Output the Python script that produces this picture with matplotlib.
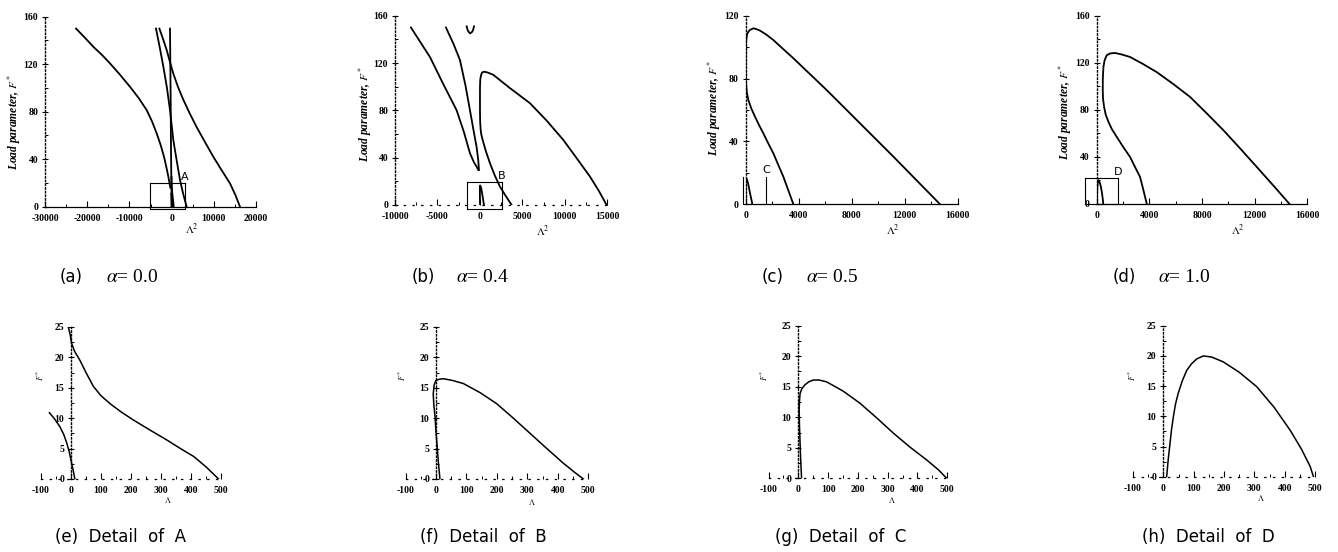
import matplotlib
matplotlib.use("Agg")
import matplotlib.pyplot as plt
from matplotlib.ticker import MultipleLocator

plt.rcParams['axes.unicode_minus'] = False
plt.rcParams['mathtext.fontset'] = 'stix'

W, H = 1338, 552

# ---- data: top panels, load parameter F* against Lambda^2 ----
# (a) alpha = 0.0
a_left_x = [-22650, -20600, -18550, -16500, -14600, -12200, -9860, -7800, -5910, -4600,
            -3540, -2600, -1800, -1250, -770, -300]
a_left_y = [150, 142.5, 134.7, 127.8, 120.7, 111, 101, 91.5, 81.4, 71.5,
            61.8, 52, 42.1, 33.5, 25.3, 16]
a_steep_x = [-3700, -2800, -1960, -1100, -380, 410, 1200, 1990, 2800, 3570]
a_steep_y = [150, 134, 118, 100, 81.4, 56, 39, 22.5, 10, 0]
a_right_x = [-2900, -2000, -1170, -400, 410, 1500, 2780, 4300, 5940, 7900, 9890,
             11900, 13840, 15100, 16200]
a_right_y = [150, 141, 132, 122, 112, 101, 90, 78.5, 67, 54.5, 42, 30.5, 19.6, 10, 0]
a_vert_x = [-380, -300, -220, -140, -60, 20]
a_vert_y = [150, 120, 89.8, 47.7, 22, 0]

# (b) alpha = 0.4
b_left_x = [-8120, -7000, -5880, -4300, -2740, -1900, -1170, -700, -390, -190]
b_left_y = [150, 137.5, 125, 102, 80, 62, 43.7, 36, 32.4, 29.6]
b_mid_x = [-4000, -3100, -2350, -1700, -1170, -750, -390, -200, -110]
b_mid_y = [150, 136, 122.5, 101, 80, 63, 49, 38, 29.6]
b_hump_x = [3740, 3050, 2360, 1750, 1190, 700, 320, 150, 90, 30, 10, 5, 10, 40, 125, 250,
            480, 900, 1580, 3500, 5900, 7900, 9820, 11400, 12960, 14000, 14920]
b_hump_y = [0, 7.5, 15.5, 25, 35.2, 45.5, 55, 60, 63.4, 70, 77.5, 90, 100, 106, 109.5, 112,
            112.7, 112, 110, 99, 86, 71, 55, 39.5, 24, 12, 0]
b_cup_x = [-1560, -1450, -1350, -1150, -900, -780, -700]
b_cup_y = [151, 148, 146.5, 145, 146.5, 148.5, 151]

# (c) alpha = 0.5
c_hump_x = [3600, 3220, 2840, 2460, 2090, 1700, 1330, 1000, 700, 420, 200, 80, 25, 5, 0, 5,
            25, 60, 126, 300, 580, 800, 1080, 1550, 2090, 2800, 3600, 6110, 8630, 11150, 14670]
c_hump_y = [0, 8.8, 17.6, 25, 32.4, 38.8, 45.2, 50.5, 55.8, 61, 66.4, 71.5, 77, 82, 87.6, 95,
            102.4, 106, 108.8, 110.8, 112, 111.5, 110.5, 108, 104.5, 99, 92.9, 72.7, 51.5, 30.3, 0]

# (d) alpha = 1.0
d_hump_x = [3800, 3550, 3290, 2900, 2530, 2000, 1520, 1150, 890, 680, 560, 480, 460, 465, 510,
            600, 760, 1000, 1390, 1900, 2530, 3500, 4560, 5800, 7090, 8350, 9620, 10900,
            12150, 13400, 14630]
d_hump_y = [0, 11.5, 22.9, 31.5, 39.9, 48.5, 56.9, 63.5, 69.7, 76, 82.4, 89.5, 96.6, 106, 116.4,
            122, 126.3, 127.8, 128.3, 127, 124.9, 119, 112, 102, 90.9, 77, 62.6, 47,
            31.4, 15.7, 0]

# detail boxes (x0, x1, y0, y1)
box_a = [-5100, 3200, -2.2, 19.6]
box_b = [-1500, 2600, -3, 19.5]
box_c = [-230, 1530, 0, 17.6]
box_d = [-890, 1650, 0, 22.1]

# ---- data: bottom panels, F* against Lambda ----
e_main_x = [-9, -3, 2, 12, 30, 50, 75, 100, 130, 168, 208, 265, 320, 365, 409, 450, 492]
e_main_y = [25, 23.8, 22.3, 21, 19.5, 17.5, 15.2, 13.7, 12.4, 11, 9.7, 8, 6.4, 5, 3.7, 2, 0]
e_side_x = [-72, -55, -37, -24, -14, -6, 0, 7, 13]
e_side_y = [10.9, 9.9, 8.6, 7.3, 5.9, 4.5, 3.1, 1.5, 0]
f_x = [13, 8, 4, 0, -3, -7, -9, -6, 0, 10, 24, 55, 90, 145, 199, 254, 309, 364, 418, 455, 484]
f_y = [0, 2.7, 5.3, 7.8, 10.2, 12.2, 14, 15.5, 16.2, 16.4, 16.5, 16.2, 15.7, 14.2, 12.4, 10,
       7.5, 5, 2.6, 1.1, 0]
g_x = [11, 8, 6, 4, 3, 4, 6, 12, 22, 35, 50, 70, 95, 150, 207, 263, 319, 375, 431, 470, 498]
g_y = [0, 3, 5.7, 8.5, 11.2, 12.7, 13.9, 14.7, 15.3, 15.8, 16.1, 16.1, 15.8, 14.3, 12.3, 9.9,
       7.4, 5.1, 3.0, 1.4, 0]
h_x = [11, 16, 22, 27, 33, 40, 49, 62, 77, 93, 110, 132, 160, 198, 250, 308, 365, 418, 455,
       484, 495]
h_y = [0, 2.8, 5.5, 7.8, 9.9, 12, 13.8, 15.8, 17.6, 18.7, 19.5, 20, 19.8, 19, 17.3, 14.9,
       11.5, 7.7, 4.6, 1.7, 0]

captions_top = [("(a)", "0.0"), ("(b)", "0.4"), ("(c)", "0.5"), ("(d)", "1.0")]
captions_bot = ["(e)  Detail  of  A", "(f)  Detail  of  B", "(g)  Detail  of  C", "(h)  Detail  of  D"]

SERIF = 'Liberation Serif'
LW = 1.3

fig = plt.figure(figsize=(W / 100, H / 100), dpi=100)


def px_axes(l, r, t, b):
    return fig.add_axes([l / W, (H - b) / H, (r - l) / W, (b - t) / H])


def ftext(x, y, s, **kw):
    fig.text(x / W, 1 - y / H, s, **kw)


def style(ax, xmaj, xmin, ymaj, ymin, bottom_ls='-', fs=7):
    for s in ['top', 'right']:
        ax.spines[s].set_visible(False)
    ax.spines['left'].set_linestyle(':')
    ax.spines['left'].set_linewidth(1.0)
    ax.spines['bottom'].set_linestyle(bottom_ls)
    ax.spines['bottom'].set_linewidth(0.9)
    ax.xaxis.set_major_locator(MultipleLocator(xmaj))
    ax.xaxis.set_minor_locator(MultipleLocator(xmin))
    ax.yaxis.set_major_locator(MultipleLocator(ymaj))
    ax.yaxis.set_minor_locator(MultipleLocator(ymin))
    ax.tick_params(axis='x', which='major', direction='in', length=4, width=0.8, pad=5)
    ax.tick_params(axis='x', which='minor', direction='in', length=2.5, width=0.7)
    ax.tick_params(axis='y', which='major', direction='inout', length=4, width=0.8, pad=3)
    ax.tick_params(axis='y', which='minor', direction='in', length=2, width=0.7)
    ax.tick_params(labelsize=fs)
    for lab in ax.get_xticklabels() + ax.get_yticklabels():
        lab.set_fontfamily(SERIF)
        lab.set_fontweight('bold')
    ax.patch.set_alpha(0)


def draw_box(ax, box, letter, top=True):
    x0, x1, y0, y1 = box
    kw = dict(color='black', lw=0.8, clip_on=False)
    if top:
        ax.plot([x0, x1], [y1, y1], **kw)
        ax.plot([x0, x1], [y0, y0], **kw)
    ax.plot([x0, x0], [y0, y1], **kw)
    ax.plot([x1, x1], [y0, y1], **kw)
    ax.text(x1, y1 + 1, letter, fontsize=8, ha='center', va='bottom',
            family='DejaVu Sans', clip_on=False)


# ---- top row ----
ax_a = px_axes(45, 256, 16.7, 206.7)
ax_a.set_xlim(-30000, 20000)
ax_a.set_ylim(0, 160)
for xs, ys in [(a_left_x, a_left_y), (a_steep_x, a_steep_y), (a_right_x, a_right_y),
               (a_vert_x, a_vert_y), (e_main_x, e_main_y), (e_side_x, e_side_y)]:
    ax_a.plot(xs, ys, color='black', lw=LW)
draw_box(ax_a, box_a, 'A')
style(ax_a, 10000, 5000, 40, 20)

ax_b = px_axes(395, 607.3, 15.7, 205)
ax_b.set_xlim(-10000, 15000)
ax_b.set_ylim(0, 160)
for xs, ys in [(b_left_x, b_left_y), (b_mid_x, b_mid_y), (b_hump_x, b_hump_y),
               (b_cup_x, b_cup_y), (f_x, f_y)]:
    ax_b.plot(xs, ys, color='black', lw=LW)
draw_box(ax_b, box_b, 'B')
style(ax_b, 5000, 2500, 40, 20, bottom_ls=(0, (1, 6)))

ax_c = px_axes(745.7, 957.7, 15.7, 204.3)
ax_c.set_xlim(0, 16000)
ax_c.set_ylim(0, 120)
ax_c.plot(c_hump_x, c_hump_y, color='black', lw=LW)
ax_c.plot(g_x, g_y, color='black', lw=LW)
draw_box(ax_c, box_c, 'C', top=False)
style(ax_c, 4000, 2000, 40, 20)

ax_d = px_axes(1096.7, 1307.3, 15.7, 203.7)
ax_d.set_xlim(0, 16000)
ax_d.set_ylim(0, 160)
ax_d.plot(d_hump_x, d_hump_y, color='black', lw=LW)
ax_d.plot(h_x, h_y, color='black', lw=LW)
draw_box(ax_d, box_d, 'D')
style(ax_d, 4000, 2000, 40, 20)

ylab_pos = [(14, 122), (365, 114), (714, 108), (1065, 112)]
xlab_pos = [(192, 229), (543, 231), (893, 230), (1238, 230)]
for (yx, yy), (xx, xy) in zip(ylab_pos, xlab_pos):
    ftext(yx, yy, r"Load parameter, $F^*$", rotation=90, ha='center', va='center',
          family=SERIF, style='italic', fontweight='bold', fontsize=8.3)
    ftext(xx, xy, r"$\Lambda^2$", ha='center', va='center', fontsize=8)

# ---- bottom row ----
bottom = [((41, 221, 327, 479), [(e_main_x, e_main_y), (e_side_x, e_side_y)]),
          ((405.5, 588.3, 327, 479), [(f_x, f_y)]),
          ((768.5, 947.3, 325.7, 478.3), [(g_x, g_y)]),
          ((1133, 1315, 325.7, 476.7), [(h_x, h_y)])]
for rect, curves in bottom:
    ax = px_axes(*rect)
    ax.set_xlim(-100, 500)
    ax.set_ylim(0, 25)
    ax.spines['left'].set_position(('data', 0))
    for xs, ys in curves:
        ax.plot(xs, ys, color='black', lw=1.1)
    style(ax, 100, 50, 5, 2.5, bottom_ls=(0, (1, 6)), fs=7)

flab_pos = [(40, 375), (402, 375), (764, 375), (1132, 375)]
llab_pos = [(168, 500), (532, 502), (892, 500), (1261, 498)]
for (fx, fy), (lx, ly) in zip(flab_pos, llab_pos):
    ftext(fx, fy, r"$F^*$", rotation=90, ha='center', va='center', fontsize=6)
    ftext(lx, ly, r"$\Lambda$", ha='center', va='center', fontsize=6)

# ---- captions ----
cap_top_pos = [(60, 106), (412, 456), (762, 806), (1113, 1158)]
for (tag, val), (x1, x2) in zip(captions_top, cap_top_pos):
    ftext(x1, 277, tag, ha='left', va='center', family='DejaVu Sans', fontsize=12)
    ftext(x2, 277, r"$\alpha$= " + val, ha='left', va='center', family=SERIF, fontsize=14)

cap_bot_x = [55, 420, 775, 1142]
for txt, x in zip(captions_bot, cap_bot_x):
    ftext(x, 537, txt, ha='left', va='center', family='DejaVu Sans', fontsize=12)

fig.savefig("out.png", dpi=100)
